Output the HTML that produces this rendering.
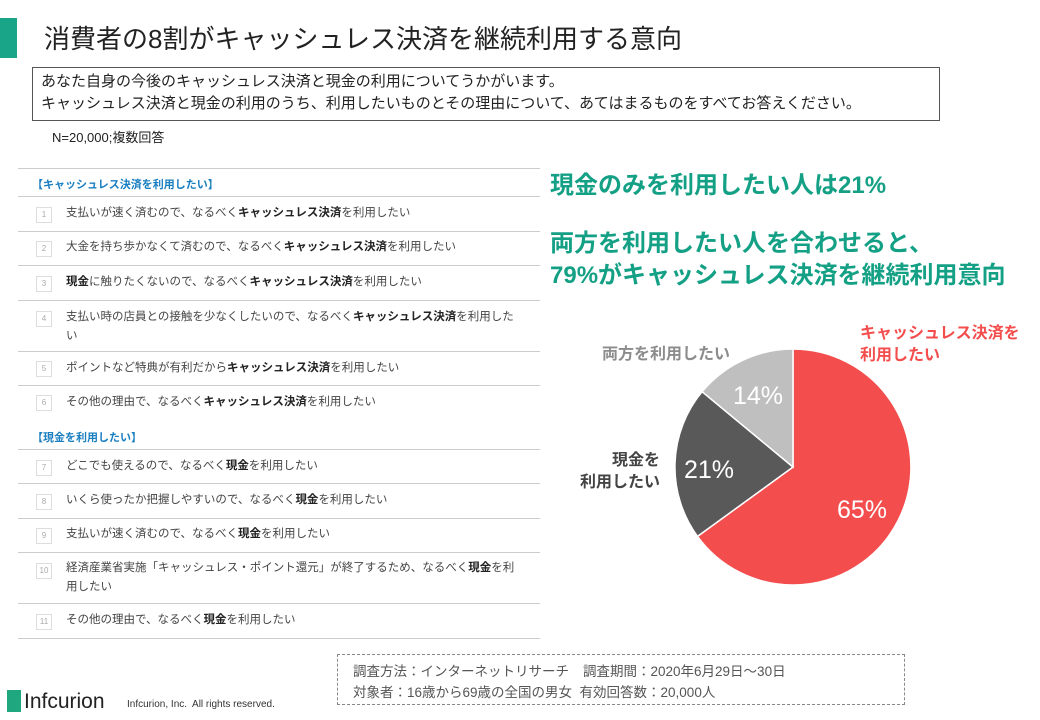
<!DOCTYPE html>
<html><head><meta charset="utf-8"><style>
body{margin:0;width:1040px;height:720px;background:#fff;position:relative;overflow:hidden;font-family:"Liberation Sans","Noto Sans CJK JP",sans-serif;color:#222}
.a{position:absolute;white-space:nowrap}
.row{position:absolute;left:18px;width:522px;border-bottom:1px solid #ccc}
.num{position:absolute;left:18px;width:14px;height:14px;border:1px solid #ddd;font-size:8px;color:#aaa;text-align:center;line-height:14px}
.t{position:absolute;left:48px;font-size:11.5px;color:#444;line-height:19px}
.t b{color:#222}
.h{position:absolute;left:32px;font-size:11px;color:#1a7fc1;font-weight:bold}
.g{color:#14a085;font-weight:bold;font-size:24px}
</style></head><body>
<div class="a" style="left:0;top:18px;width:17px;height:40px;background:#18a588"></div>
<div class="a" style="left:44px;top:19px;font-size:26px;color:#222">消費者の8割がキャッシュレス決済を継続利用する意向</div>
<div class="a" style="left:32px;top:67px;width:908px;height:54px;border:1px solid #555;box-sizing:border-box;font-size:15px;line-height:22px;padding:3px 8px">あなた自身の今後のキャッシュレス決済と現金の利用についてうかがいます。<br>キャッシュレス決済と現金の利用のうち、利用したいものとその理由について、あてはまるものをすべてお答えください。</div>
<div class="a" style="left:52px;top:127px;font-size:13px">N=20,000;複数回答</div>

<div class="row" style="top:168px;height:0"></div>
<div class="h" style="top:176px">【キャッシュレス決済を利用したい】</div>
<div class="row" style="top:196px;height:0"></div>
<div class="row" style="top:197px;height:34px"><div class="num" style="top:10px">1</div><div class="t" style="top:7px">支払いが速く済むので、なるべく<b>キャッシュレス決済</b>を利用したい</div></div>
<div class="row" style="top:232px;height:33px"><div class="num" style="top:9px">2</div><div class="t" style="top:6px">大金を持ち歩かなくて済むので、なるべく<b>キャッシュレス決済</b>を利用したい</div></div>
<div class="row" style="top:266px;height:34px"><div class="num" style="top:10px">3</div><div class="t" style="top:7px"><b>現金</b>に触りたくないので、なるべく<b>キャッシュレス決済</b>を利用したい</div></div>
<div class="row" style="top:301px;height:50px"><div class="num" style="top:10px">4</div><div class="t" style="top:7px">支払い時の店員との接触を少なくしたいので、なるべく<b>キャッシュレス決済</b>を利用した<br>い</div></div>
<div class="row" style="top:352px;height:33px"><div class="num" style="top:9px">5</div><div class="t" style="top:7px">ポイントなど特典が有利だから<b>キャッシュレス決済</b>を利用したい</div></div>
<div class="row" style="top:386px;height:33px;border:none"><div class="num" style="top:9px">6</div><div class="t" style="top:7px">その他の理由で、なるべく<b>キャッシュレス決済</b>を利用したい</div></div>
<div class="h" style="top:429px">【現金を利用したい】</div>
<div class="row" style="top:449px;height:0"></div>
<div class="row" style="top:450px;height:33px"><div class="num" style="top:10px">7</div><div class="t" style="top:7px">どこでも使えるので、なるべく<b>現金</b>を利用したい</div></div>
<div class="row" style="top:484px;height:34px"><div class="num" style="top:10px">8</div><div class="t" style="top:7px">いくら使ったか把握しやすいので、なるべく<b>現金</b>を利用したい</div></div>
<div class="row" style="top:519px;height:33px"><div class="num" style="top:9px">9</div><div class="t" style="top:6px">支払いが速く済むので、なるべく<b>現金</b>を利用したい</div></div>
<div class="row" style="top:553px;height:50px"><div class="num" style="top:10px">10</div><div class="t" style="top:6px">経済産業省実施「キャッシュレス・ポイント還元」が終了するため、なるべく<b>現金</b>を利<br>用したい</div></div>
<div class="row" style="top:604px;height:34px"><div class="num" style="top:10px">11</div><div class="t" style="top:7px">その他の理由で、なるべく<b>現金</b>を利用したい</div></div>

<div class="a g" style="left:550px;top:165px">現金のみを利用したい人は21%</div>
<div class="a g" style="left:550px;top:228px;line-height:32px">両方を利用したい人を合わせると、<br>79%がキャッシュレス決済を継続利用意向</div>

<svg class="a" style="left:0;top:0" width="1040" height="720">
<path d="M793,467 L793,349 A118,118 0 1,1 697.5,536.4 Z" fill="#f44d4d" stroke="#fff" stroke-width="1.5"/>
<path d="M793,467 L697.5,536.4 A118,118 0 0,1 702.1,391.7 Z" fill="#595959" stroke="#fff" stroke-width="1.5"/>
<path d="M793,467 L702.1,391.7 A118,118 0 0,1 793,349 Z" fill="#bfbfbf" stroke="#fff" stroke-width="1.5"/>
<text x="862" y="518" font-size="25" fill="#fff" text-anchor="middle" font-family="Liberation Sans">65%</text>
<text x="709" y="478" font-size="25" fill="#fff" text-anchor="middle" font-family="Liberation Sans">21%</text>
<text x="758" y="404" font-size="25" fill="#fff" text-anchor="middle" font-family="Liberation Sans">14%</text>
</svg>
<div class="a" style="left:602px;top:340px;font-size:16px;font-weight:bold;color:#8c8c8c">両方を利用したい</div>
<div class="a" style="left:860px;top:323px;font-size:16px;font-weight:bold;color:#f44d4d;line-height:22px">キャッシュレス決済を<br>利用したい</div>
<div class="a" style="left:570px;top:450px;font-size:16px;font-weight:bold;color:#444;line-height:22px;text-align:right;width:90px">現金を<br>利用したい</div>

<div class="a" style="left:337px;top:654px;width:568px;height:51px;border:1px dashed #888;box-sizing:border-box"></div>
<div class="a" style="left:353px;top:660px;font-size:13.5px;color:#555">調査方法：インターネットリサーチ</div>
<div class="a" style="left:583px;top:660px;font-size:13.5px;color:#555">調査期間：2020年6月29日～30日</div>
<div class="a" style="left:353px;top:681px;font-size:13.5px;color:#555">対象者：16歳から69歳の全国の男女&nbsp; 有効回答数：20,000人</div>
<div class="a" style="left:7px;top:690px;width:14px;height:22px;background:#1fa77f"></div>
<div class="a" style="left:24px;top:690px;font-size:21px;color:#222">Infcurion</div>
<div class="a" style="left:127px;top:699px;font-size:10px;color:#333">Infcurion, Inc.&nbsp; All rights reserved.</div>
</body></html>
